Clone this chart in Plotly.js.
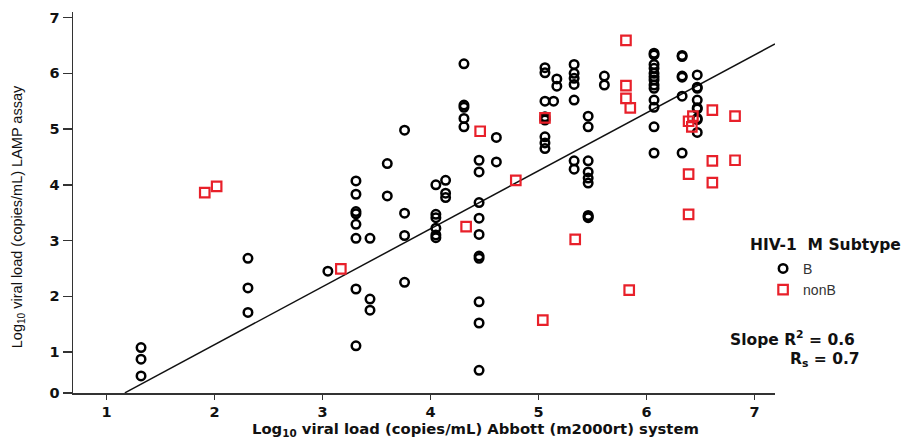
<!DOCTYPE html>
<html>
<head>
<meta charset="utf-8">
<script src="https://cdn.plot.ly/plotly-3.0.1.min.js"></script>
<style>html,body{margin:0;padding:0;background:#fff;}#chart{width:914px;height:439px;}</style>
</head>
<body>
<div id="chart"></div>
<script>
// Subtype B (black open circles)
const B_X = [
  1.32, 1.32, 1.32,
  2.31, 2.31, 2.31,
  3.05,
  3.31, 3.31, 3.31, 3.31, 3.31, 3.31, 3.31, 3.31,
  3.44, 3.44, 3.44,
  3.60, 3.60,
  3.76, 3.76, 3.76, 3.76,
  4.05, 4.05, 4.05, 4.05, 4.05, 4.05,
  4.14, 4.14, 4.14,
  4.31, 4.31, 4.31, 4.31, 4.31,
  4.45, 4.45, 4.45, 4.45, 4.45, 4.45, 4.45, 4.45, 4.45, 4.45,
  4.61, 4.61,
  5.06, 5.06, 5.06, 5.06, 5.06, 5.06, 5.06, 5.06, 5.06,
  5.14, 5.17, 5.17,
  5.33, 5.33, 5.33, 5.33, 5.33, 5.33, 5.33,
  5.46, 5.46, 5.46, 5.46, 5.46, 5.46, 5.46, 5.46, 5.46,
  5.61, 5.61,
  6.07, 6.07, 6.07, 6.07, 6.07, 6.07, 6.07, 6.07, 6.07, 6.07, 6.07, 6.07, 6.07,
  6.33, 6.33, 6.33, 6.33, 6.33, 6.33,
  6.47, 6.47, 6.47, 6.47, 6.47, 6.47, 6.47, 6.47, 6.47
];
const B_Y = [
  1.08, 0.87, 0.57,
  2.68, 2.15, 1.71,
  2.45,
  4.07, 3.83, 3.52, 3.48, 3.29, 3.04, 2.13, 1.11,
  3.04, 1.95, 1.75,
  4.38, 3.80,
  4.98, 3.49, 3.09, 2.25,
  4.00, 3.47, 3.41, 3.22, 3.10, 3.05,
  4.08, 3.85, 3.77,
  6.17, 5.43, 5.39, 5.19, 5.04,
  4.44, 4.23, 3.68, 3.40, 3.11, 2.72, 2.68, 1.90, 1.52, 0.67,
  4.85, 4.41,
  6.10, 6.01, 5.50, 5.22, 5.18, 5.16, 4.86, 4.75, 4.65,
  5.50, 5.90, 5.77,
  6.16, 6.00, 5.91, 5.80, 5.52, 4.43, 4.28,
  5.23, 5.04, 4.43, 4.23, 4.12, 4.03, 3.45, 3.43, 3.41,
  5.95, 5.79,
  6.36, 6.33, 6.16, 6.09, 6.00, 5.94, 5.88, 5.79, 5.73, 5.52, 5.39, 5.04, 4.57,
  6.32, 6.30, 5.95, 5.93, 5.59, 4.57,
  5.97, 5.75, 5.73, 5.52, 5.38, 5.36, 5.19, 5.17, 4.94
];
// Subtype nonB (red open squares)
const NB_X = [1.91, 2.02, 3.17, 4.33, 4.46, 4.79, 5.04, 5.06, 5.34, 5.81, 5.81, 5.81, 5.85, 5.84,
              6.39, 6.43, 6.42, 6.61, 6.82, 6.61, 6.82, 6.39, 6.61, 6.39];
const NB_Y = [3.86, 3.97, 2.49, 3.25, 4.96, 4.08, 1.57, 5.20, 3.02, 6.59, 5.78, 5.55, 5.38, 2.11,
              5.14, 5.23, 5.04, 5.34, 5.23, 4.43, 4.44, 4.19, 4.04, 3.47];
// Regression line
const FIT_SLOPE = 1.04;
const FIT_INTERCEPT = -0.95;
const FIT_X = [1.17, 7.19];
const FIT_Y = FIT_X.map(x => FIT_SLOPE * x + FIT_INTERCEPT);
// Ticks
const X_TICKS = [1, 2, 3, 4, 5, 6, 7];
const Y_TICK_POS = [0.264, 1, 2, 3, 4, 5, 6, 7];
const Y_TICK_TEXT = ['0', '1', '2', '3', '4', '5', '6', '7'];

const tickFont = {family: 'DejaVu Sans, Verdana, sans-serif', size: 14.5, color: '#111', weight: 'bold'};
const boldWide = 'DejaVu Sans, Verdana, sans-serif';

const traces = [
  {x: FIT_X, y: FIT_Y, mode: 'lines', line: {color: '#111', width: 1.5}, showlegend: false, hoverinfo: 'skip'},
  {x: B_X, y: B_Y, mode: 'markers', name: 'B',
   marker: {symbol: 'circle-open', size: 8.5, color: '#000', line: {width: 2.5, color: '#000'}}},
  {x: NB_X, y: NB_Y, mode: 'markers', name: 'nonB',
   marker: {symbol: 'square-open', size: 9.5, color: '#e8202a', line: {width: 2.2, color: '#e8202a'}}}
];

const layout = {
  width: 914, height: 439,
  margin: {l: 73, r: 139, t: 12, b: 46},
  paper_bgcolor: '#fff', plot_bgcolor: '#fff',
  showlegend: true,
  legend: {x: 0.983, xanchor: 'left', y: 0.368, yanchor: 'top', bgcolor: 'rgba(0,0,0,0)',
           font: {family: 'Liberation Sans, Arial, sans-serif', size: 14, color: '#333'},
           tracegroupgap: 0, itemwidth: 30},
  xaxis: {range: [0.69, 7.19], showgrid: false, zeroline: false, showline: true,
          linecolor: '#333', linewidth: 1.5, ticks: 'outside', ticklen: 5, tickwidth: 1.5,
          tickcolor: '#333', tickvals: X_TICKS, tickfont: tickFont},
  yaxis: {range: [0.264, 7.10], showgrid: false, zeroline: false, showline: true,
          linecolor: '#333', linewidth: 1.5, ticks: 'outside', ticklen: 9, tickwidth: 1.5,
          tickcolor: '#333', tickvals: Y_TICK_POS, ticktext: Y_TICK_TEXT, tickfont: tickFont},
  annotations: [
    {xref: 'paper', yref: 'paper', x: 0.573, y: -0.0958, xanchor: 'center', yanchor: 'middle', showarrow: false,
     text: 'Log<sub>10</sub> viral load (copies/mL) Abbott (m2000rt) system',
     font: {family: boldWide, size: 14.8, color: '#111', weight: 'bold'}},
    {xref: 'paper', yref: 'paper', x: -0.078, y: 0.462, xanchor: 'center', yanchor: 'middle', showarrow: false,
     textangle: -90, text: 'Log<sub>10</sub> viral load (copies/mL) LAMP assay',
     font: {family: 'Liberation Sans, Arial, sans-serif', size: 14.5, color: '#111'}},
    {xref: 'paper', yref: 'paper', x: 0.9615, y: 0.388, xanchor: 'left', yanchor: 'middle', showarrow: false,
     text: 'HIV-1  M Subtype', font: {family: boldWide, size: 15.5, color: '#111', weight: 'bold'}},
    {xref: 'paper', yref: 'paper', x: 0.933, y: 0.144, xanchor: 'left', yanchor: 'middle', showarrow: false,
     text: 'Slope R<sup>2</sup> = 0.6', font: {family: boldWide, size: 15.5, color: '#111', weight: 'bold'}},
    {xref: 'paper', yref: 'paper', x: 1.124, y: 0.087, xanchor: 'right', yanchor: 'middle', showarrow: false,
     text: 'R<sub>s</sub> = 0.7', font: {family: boldWide, size: 15.5, color: '#111', weight: 'bold'}}
  ]
};

Plotly.newPlot('chart', traces, layout, {displayModeBar: false, staticPlot: true});
</script>
</body>
</html>
